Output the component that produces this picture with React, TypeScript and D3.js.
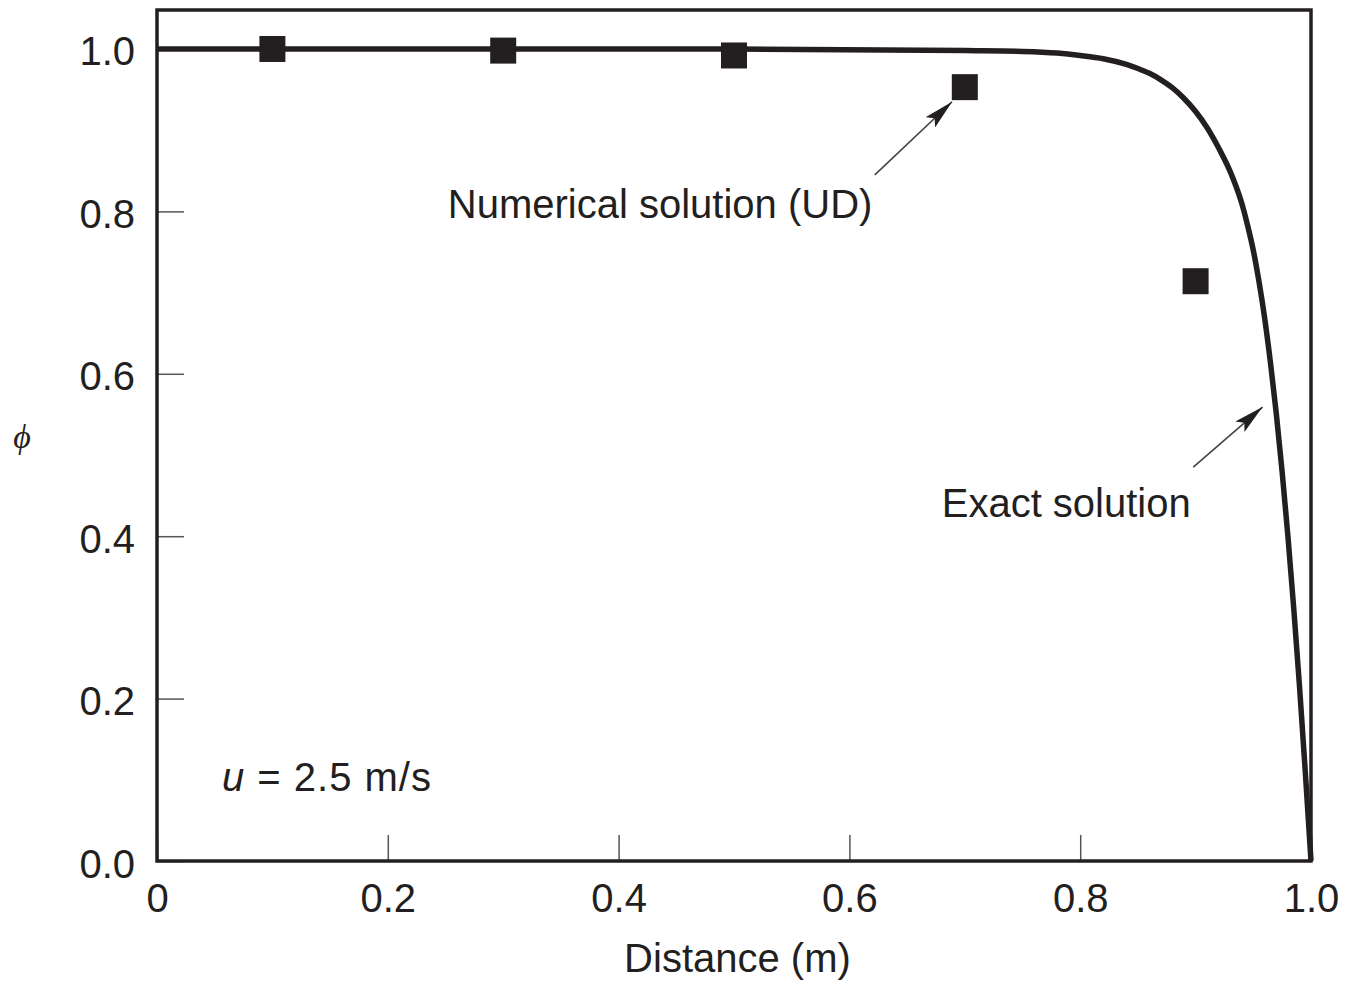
import React, { useEffect, useRef } from 'react';
import * as d3 from 'd3';

// exact solution
const exactX = [0, 0.3, 0.5, 0.7, 0.75, 0.78, 0.8, 0.82, 0.84, 0.85, 0.86, 0.87, 0.88, 0.89, 0.9, 0.91, 0.92, 0.93, 0.935, 0.94, 0.945, 0.95, 0.955, 0.96, 0.965, 0.97, 0.975, 0.98, 0.985, 0.99, 0.995, 1.0];
const exactY = [1.0, 1.0, 1.0, 0.998, 0.997, 0.995, 0.992, 0.988, 0.981, 0.976, 0.970, 0.962, 0.952, 0.939, 0.923, 0.903, 0.878, 0.849, 0.831, 0.810, 0.783, 0.752, 0.713, 0.667, 0.612, 0.550, 0.479, 0.400, 0.312, 0.216, 0.111, 0];

// numerical (UD) nodes
const udX = [0.1, 0.3, 0.5, 0.7, 0.9];
const udY = [1.0, 0.998, 0.992, 0.953, 0.714];

const xTicks = [0, 0.2, 0.4, 0.6, 0.8, 1.0];
const xTickLabels = ['0', '0.2', '0.4', '0.6', '0.8', '1.0'];
const yTicks = [0, 0.2, 0.4, 0.6, 0.8, 1.0];
const yTickLabels = ['0.0', '0.2', '0.4', '0.6', '0.8', '1.0'];

const INK = '#231f20';
const FONT = '"Liberation Sans", Arial, Helvetica, sans-serif';

const App = () => {
    const ref = useRef<SVGSVGElement>(null);

    useEffect(() => {
        const margin = { top: 10, right: 37, bottom: 123, left: 157 },
            width = 1348 - margin.left - margin.right,
            height = 984 - margin.top - margin.bottom;

        const svg = d3.select(ref.current);
        svg.selectAll('*').remove();

        const g = svg.append('g')
            .attr('transform', 'translate(' + margin.left + ',' + margin.top + ')');

        const x = d3.scaleLinear().domain([0, 1]).range([0, width]);
        const y = d3.scaleLinear().domain([0, 1.048]).range([height, 0]);

        // x axis, ticks pointing up into the plot
        const xa = g.append('g')
            .attr('transform', 'translate(0,' + height + ')')
            .call(d3.axisBottom(x).tickValues(xTicks).tickSize(-26)
                .tickFormat((d, i) => xTickLabels[i]));
        xa.select('.domain').remove();
        xa.selectAll('line').attr('stroke', '#555').attr('stroke-width', 1.5);
        xa.selectAll('text')
            .attr('y', 51).attr('dy', null)
            .attr('fill', INK).attr('font-size', 40).attr('font-family', FONT);

        // y axis, ticks pointing right
        const ya = g.append('g')
            .call(d3.axisLeft(y).tickValues(yTicks).tickSize(-27)
                .tickFormat((d, i) => yTickLabels[i]));
        ya.select('.domain').remove();
        ya.selectAll('line').attr('stroke', '#555').attr('stroke-width', 1.5);
        ya.selectAll('text')
            .attr('x', -22).attr('dy', 16)
            .attr('fill', INK).attr('font-size', 40).attr('font-family', FONT);

        // frame
        g.append('rect')
            .attr('x', 0).attr('y', 0)
            .attr('width', width).attr('height', height)
            .attr('fill', 'none').attr('stroke', INK).attr('stroke-width', 3.5);

        // exact solution
        const line = d3.line<number>()
            .x((d, i) => x(exactX[i]))
            .y((d) => y(d))
            .curve(d3.curveMonotoneX);
        g.append('path')
            .datum(exactY)
            .attr('d', line)
            .attr('fill', 'none')
            .attr('stroke', INK)
            .attr('stroke-width', 5.5)
            .attr('stroke-linejoin', 'round');

        // UD squares
        const sz = 26;
        g.selectAll('.ud')
            .data(udY)
            .enter().append('rect')
            .attr('class', 'ud')
            .attr('x', (d, i) => x(udX[i]) - sz / 2)
            .attr('y', (d) => y(d) - sz / 2)
            .attr('width', sz).attr('height', sz)
            .attr('fill', INK);

        // arrows
        svg.append('defs').append('marker')
            .attr('id', 'head')
            .attr('markerUnits', 'userSpaceOnUse')
            .attr('viewBox', '0 0 30 14')
            .attr('refX', 30).attr('refY', 7)
            .attr('markerWidth', 30).attr('markerHeight', 14)
            .attr('orient', 'auto')
            .append('path')
            .attr('d', 'M0,0 L30,7 L0,14 L6,7 Z')
            .attr('fill', INK);

        const arrows = [
            { x1: 0.622, y1: 0.845, x2: 0.689, y2: 0.935 },
            { x1: 0.898, y1: 0.485, x2: 0.958, y2: 0.559 }
        ];
        g.selectAll('.arrow')
            .data(arrows)
            .enter().append('line')
            .attr('class', 'arrow')
            .attr('x1', (d) => x(d.x1)).attr('y1', (d) => y(d.y1))
            .attr('x2', (d) => x(d.x2)).attr('y2', (d) => y(d.y2))
            .attr('stroke', '#444').attr('stroke-width', 1.6)
            .attr('marker-end', 'url(#head)');

        const notes = [
            { x: 0.252, y: 0.792, text: 'Numerical solution (UD)' },
            { x: 0.68, y: 0.424, text: 'Exact solution' }
        ];
        g.selectAll('.note')
            .data(notes)
            .enter().append('text')
            .attr('class', 'note')
            .attr('x', (d) => x(d.x)).attr('y', (d) => y(d.y))
            .attr('fill', INK).attr('font-size', 40).attr('font-family', FONT)
            .text((d) => d.text);

        const u = g.append('text')
            .attr('x', x(0.0563)).attr('y', y(0.086))
            .attr('fill', INK).attr('font-size', 40).attr('font-family', FONT)
            .attr('letter-spacing', 1);
        u.append('tspan').attr('font-style', 'italic').text('u');
        u.append('tspan').text('\u00a0=\u00a02.5 m/s');

        // axis titles
        svg.append('text')
            .attr('x', margin.left + x(0.503)).attr('y', 972)
            .attr('text-anchor', 'middle')
            .attr('fill', INK).attr('font-size', 40).attr('font-family', FONT)
            .text('Distance (m)');

        svg.append('text')
            .attr('x', 22).attr('y', 448)
            .attr('text-anchor', 'middle')
            .attr('fill', INK).attr('font-size', 34).attr('font-style', 'italic')
            .attr('font-family', '"Liberation Serif", "DejaVu Serif", serif')
            .text('ϕ');
    }, []);

    return (
        <svg ref={ref} width={1348} height={984}
            style={{ position: 'absolute', left: 0, top: 0, background: '#fff' }} />
    );
};

export default App;
